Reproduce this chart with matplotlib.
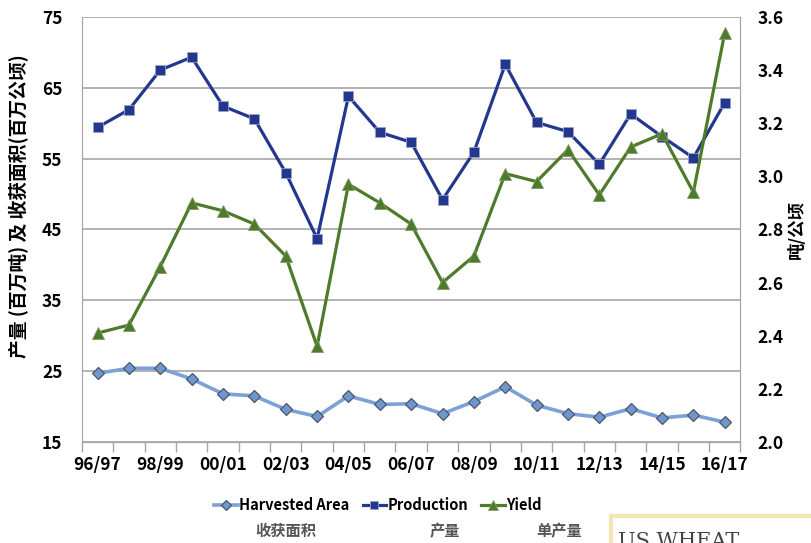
import matplotlib.pyplot as plt
from matplotlib.patches import Rectangle

plt.rcParams['font.family'] = ['Noto Sans CJK SC', 'DejaVu Sans']

years = ['96/97', '97/98', '98/99', '99/00', '00/01', '01/02', '02/03',
         '03/04', '04/05', '05/06', '06/07', '07/08', '08/09', '09/10',
         '10/11', '11/12', '12/13', '13/14', '14/15', '15/16', '16/17']

# million tonnes
production = [59.4, 61.9, 67.5, 69.3, 62.4, 60.6, 53.0, 43.7, 63.8, 58.7,
              57.3, 49.2, 55.9, 68.3, 60.1, 58.8, 54.2, 61.3, 58.1, 55.1, 62.9]

# million hectares
harvested = [24.7, 25.4, 25.4, 23.9, 21.8, 21.5, 19.6, 18.6, 21.5, 20.3,
             20.4, 19.0, 20.7, 22.8, 20.2, 19.0, 18.5, 19.7, 18.4, 18.8, 17.8]

# tonnes per hectare
yields = [2.41, 2.44, 2.66, 2.90, 2.87, 2.82, 2.70, 2.36, 2.97, 2.90,
          2.82, 2.60, 2.70, 3.01, 2.98, 3.10, 2.93, 3.11, 3.16, 2.94, 3.54]

c_area = '#7ba1d6'
c_prod = '#24378f'
c_yield = '#4e7a2b'

fig = plt.figure(figsize=(8.11, 5.43), dpi=100)
ax = fig.add_axes([0.101, 0.186, 0.812, 0.783])
ax2 = ax.twinx()

x = list(range(len(years)))

l1, = ax.plot(x, harvested, color=c_area, lw=2.6, marker='D', ms=6.5,
              mfc='#6e97cf', mec='#4f5666', mew=0.9, zorder=3)
l2, = ax.plot(x, production, color=c_prod, lw=2.3, marker='s', ms=7.5,
              mfc=c_prod, mec='#9aa3c4', mew=0.6, zorder=3)
l3, = ax2.plot(x, yields, color=c_yield, lw=2.3, marker='^', ms=8,
               mfc=c_yield, mec='#7f9a66', mew=0.6, zorder=3)

ax.set_xlim(-0.5, len(years) - 0.5)
ax.set_ylim(15, 75)
ax.set_yticks(range(15, 76, 10))
ax2.set_ylim(2.0, 3.6)
ax2.set_yticks([2.0, 2.2, 2.4, 2.6, 2.8, 3.0, 3.2, 3.4, 3.6])
ax2.set_yticklabels(['%.1f' % v for v in ax2.get_yticks()])

ax.yaxis.grid(True, color='#a6a6a6', lw=1.2)
ax.set_axisbelow(True)

# category boundaries as tick marks, labels on every other year
ax.set_xticks([i - 0.5 for i in range(len(years) + 1)])
ax.set_xticklabels([])
ax.set_xticks(x[::2], minor=True)
ax.set_xticklabels(years[::2], minor=True)
ax.tick_params(axis='x', which='major', length=7, color='#a6a6a6', width=1)
ax.tick_params(axis='x', which='minor', length=0, pad=10, labelsize=12.5)
ax.tick_params(axis='y', length=0, pad=14, labelsize=12.5)
ax2.tick_params(axis='y', length=0, pad=12, labelsize=12.5)
for lab in ax.get_xticklabels(minor=True) + ax.get_yticklabels() + ax2.get_yticklabels():
    lab.set_fontweight('bold')

for a in (ax, ax2):
    for side in ('top', 'right', 'left', 'bottom'):
        a.spines[side].set_color('#a6a6a6')
    a.spines['top'].set_visible(False)

ax.set_ylabel('产量 (百万吨) 及 收获面积(百万公顷)', fontsize=13.5, fontweight='bold')
ax.yaxis.set_label_coords(-0.08, 0.555)
ax2.set_ylabel('吨/公顷', fontsize=12.5, fontweight='bold', labelpad=3)

fig.legend([l1, l2, l3], ['Harvested Area', 'Production', 'Yield'],
           loc='center', bbox_to_anchor=(0.466, 0.07), ncol=3, frameon=False,
           handlelength=1.6, handletextpad=0.1, columnspacing=0.9,
           markerscale=0.85, prop={'size': 10.5, 'weight': 'bold'})

for xp, txt in [(0.352, '收获面积'), (0.549, '产量'), (0.69, '单产量')]:
    fig.text(xp, 0.022, txt, ha='center', va='center', fontsize=11,
             fontweight='bold', color='#555555')

# corner of the banner below the chart
fig.patches.append(Rectangle((0.753, -0.05), 0.3, 0.1, transform=fig.transFigure,
                             fc='white', ec='#f3e6b0', lw=3, zorder=5))
fig.text(0.762, -0.008, 'US WHEAT', fontsize=15, family='DejaVu Serif',
         color='#444444', zorder=6)

fig.savefig('out.png', dpi=100)
